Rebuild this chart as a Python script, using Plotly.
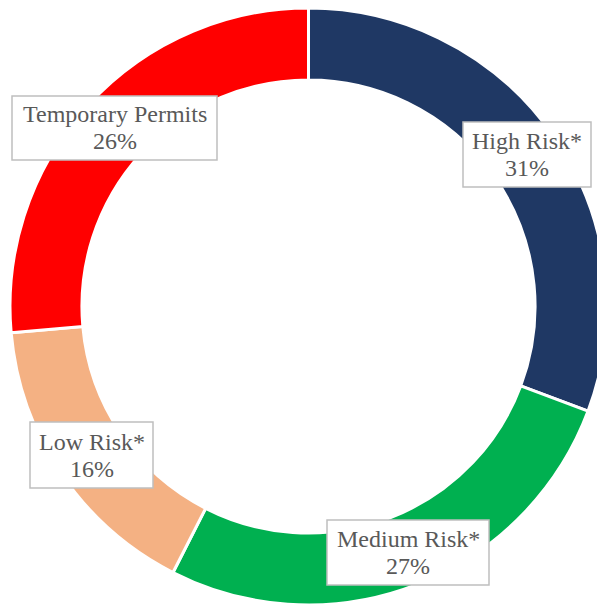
import plotly.graph_objects as go

categories = ["High Risk*", "Medium Risk*", "Low Risk*", "Temporary Permits"]
values = [30.7, 26.8, 16.1, 26.4]
colors = ["#1F3864", "#00B050", "#F4B183", "#FF0000"]

W, H = 605, 606
# label boxes in figure pixels: (x0, x1, y0, y1) from top-left
label_boxes = [(455, 583, 114, 179), (319, 481, 512, 577),
               (22, 145, 414, 480), (4, 209, 88, 152)]

fig = go.Figure(go.Pie(
    labels=categories, values=values, sort=False, direction="clockwise",
    rotation=0, hole=0.759, textinfo="none", hoverinfo="label+percent",
    marker=dict(colors=colors, line=dict(color="white", width=3)),
    domain=dict(x=[2 / W, 599 / W], y=[9 / H, 1.0]),
    showlegend=False,
))

total = sum(values)
anns, shapes = [], []
font = dict(family="Liberation Serif", size=24, color="#595959")
for cat, v, (x0, x1, y0, y1) in zip(categories, values, label_boxes):
    shapes.append(dict(type="rect", xref="paper", yref="paper",
                       x0=x0 / W, x1=x1 / W, y0=1 - y1 / H, y1=1 - y0 / H,
                       fillcolor="white", line=dict(color="#BFBFBF", width=1.5),
                       layer="above"))
    cx = (x0 + x1) / 2 / W
    cy = (y0 + y1) / 2
    for txt, dy in ((cat, -13.5), (f"{round(100 * v / total)}%", 13.5)):
        anns.append(dict(x=cx, y=1 - (cy + dy) / H, xref="paper", yref="paper",
                         xanchor="center", yanchor="middle", text=txt,
                         showarrow=False, font=font))

fig.update_layout(
    width=W, height=H, margin=dict(l=0, r=0, t=0, b=0),
    paper_bgcolor="white", plot_bgcolor="white",
    annotations=anns, shapes=shapes,
)
fig.write_html("out.html")
